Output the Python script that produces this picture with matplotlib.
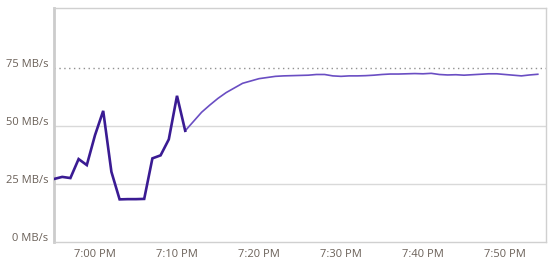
import matplotlib
matplotlib.use("Agg")
import matplotlib.pyplot as plt
import matplotlib.dates as mdates
import matplotlib.transforms as mtrans
import pandas as pd

# Throughput (MB/s), one sample per minute starting 6:55 PM
early_values = [27.2, 28.1, 27.6, 35.8, 33.2, 46.1, 56.6, 30.3, 18.4, 18.5,
                18.5, 18.6, 36.1, 37.4, 44.3, 63.1, 48.0]
late_values = [48.0, 52.0, 56.0, 59.1, 62.0, 64.5, 66.5, 68.5, 69.5, 70.5,
               71.0, 71.5, 71.7, 71.8, 71.9, 72.0, 72.3, 72.3, 71.7, 71.5,
               71.7, 71.7, 71.8, 72.0, 72.3, 72.5, 72.5, 72.6, 72.7, 72.6,
               72.8, 72.3, 72.1, 72.2, 72.0, 72.2, 72.4, 72.6, 72.6, 72.3,
               72.0, 71.7, 72.1, 72.4]
start = pd.Timestamp("2024-01-01 18:55")
early_times = pd.date_range(start, periods=len(early_values), freq="1min")
late_times = pd.date_range(early_times[-1], periods=len(late_values), freq="1min")

y_ticks = [0, 25, 50, 75]
y_labels = ["0 MB/s", "25 MB/s", "50 MB/s", "75 MB/s"]
x_ticks = pd.date_range("2024-01-01 19:00", periods=6, freq="10min")
x_labels = ["7:00 PM", "7:10 PM", "7:20 PM", "7:30 PM", "7:40 PM", "7:50 PM"]

plt.rcParams['font.family'] = ['Open Sans', 'DejaVu Sans']

fig = plt.figure(figsize=(5.58, 2.69), dpi=100)
ax = fig.add_axes([54/558, 27/269, 492/558, 234/269])

# gridlines
ax.axhline(25, color='#d9d9d9', lw=1, zorder=1)
ax.axhline(50, color='#d9d9d9', lw=1, zorder=1)
ax.axhline(75, color='#909090', lw=1, ls=(0, (1, 2.5)), zorder=1)

ax.plot(late_times, late_values, color='#6a4ec3', lw=1.2, zorder=3)
ax.plot(early_times, early_values, color='#3a1b93', lw=1.9, zorder=4,
        solid_joinstyle='miter')

ax.set_xlim(start, start + pd.Timedelta(minutes=60))
ax.set_ylim(0, 101)

ax.set_yticks(y_ticks)
ax.set_yticklabels(y_labels)
ax.set_xticks(x_ticks)
ax.set_xticklabels(x_labels)

ax.tick_params(axis='both', length=0, labelsize=8, colors='#6a6058')
ax.tick_params(axis='y', pad=4)
ax.tick_params(axis='x', pad=5)

offset = mtrans.ScaledTranslation(0, 5/100, fig.dpi_scale_trans)
for lab in ax.get_yticklabels():
    lab.set_transform(lab.get_transform() + offset)

for side in ['top', 'right', 'bottom']:
    ax.spines[side].set_color('#d0d0d0')
    ax.spines[side].set_linewidth(1)
ax.spines['left'].set_color('#cccccc')
ax.spines['left'].set_linewidth(2)

fig.savefig("out.png", dpi=100)
